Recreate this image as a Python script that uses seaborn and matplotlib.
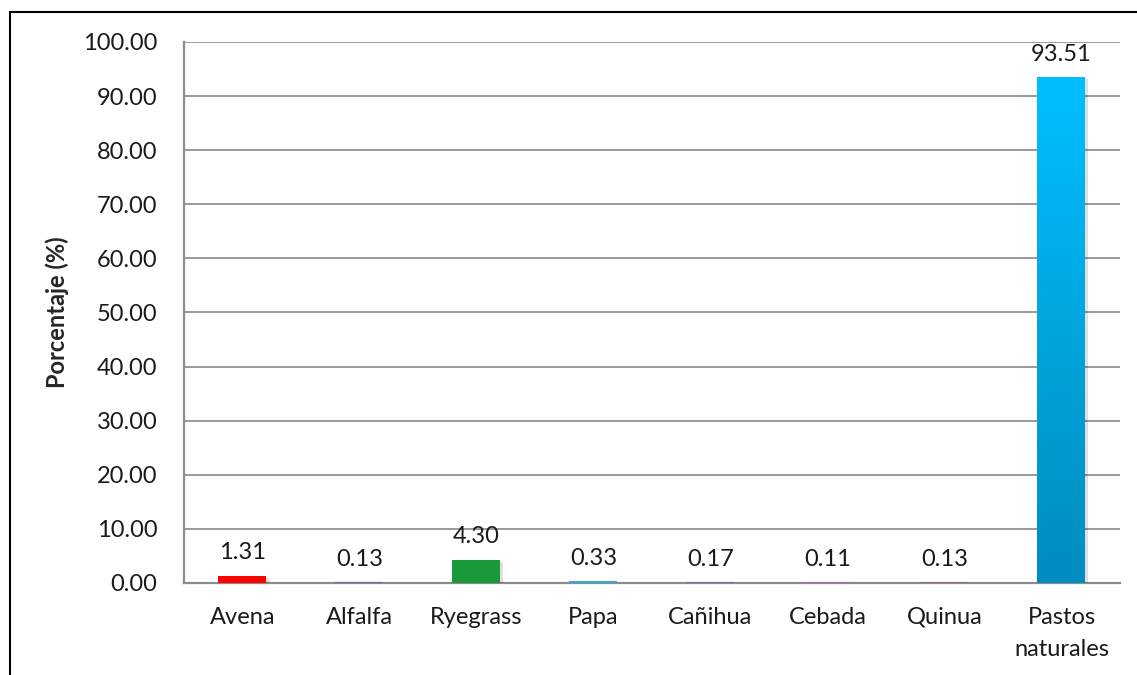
import numpy as np
import pandas as pd
import seaborn as sns
import matplotlib.pyplot as plt
import matplotlib.patheffects as pe
from matplotlib.patches import Rectangle

# Porcentaje de superficie por cultivo

cultivos = ['Avena', 'Alfalfa', 'Ryegrass', 'Papa', 'Cañihua', 'Cebada', 'Quinua', 'Pastos\nnaturales']
porcentaje = [1.31, 0.13, 4.30, 0.33, 0.17, 0.11, 0.13, 93.51]
colores = ['#FF0000', '#6F62A0', '#1A9A3A', '#35A9D8', '#6A7590', '#9A72A6', '#8C7272', '#00A6DC']

df = pd.DataFrame({'cultivo': cultivos, 'porcentaje': porcentaje})

sns.set_style('white')
plt.rcParams['font.family'] = ['Lato', 'DejaVu Sans']

fig = plt.figure(figsize=(11.37, 6.75), dpi=100)
ax = fig.add_axes([0.1618, 0.1363, 0.8232, 0.8015])

sns.barplot(data=df, x='cultivo', y='porcentaje', hue='cultivo', palette=colores,
            saturation=1, width=0.41, linewidth=0, legend=False, ax=ax, zorder=3)

# sombra suave en las barras
for p in ax.patches:
    p.set_path_effects([pe.SimplePatchShadow(offset=(1.5, -1.5), shadow_rgbFace='#000000', alpha=0.12),
                        pe.Normal()])

# degradado en la barra de pastos naturales
barra = ax.patches[-1]
x0, y0 = barra.get_x(), barra.get_y()
w, h = barra.get_width(), barra.get_height()
grad = np.linspace(0, 1, 256).reshape(-1, 1)
cmap = sns.blend_palette(['#008CBE', '#00BFFF'], as_cmap=True)
img = ax.imshow(grad, extent=[x0, x0 + w, y0, y0 + h], origin='lower', cmap=cmap,
                aspect='auto', zorder=4)
img.set_clip_path(barra)

for i, v in enumerate(porcentaje):
    ax.annotate(f'{v:.2f}', (i, v), xytext=(0, 9), textcoords='offset points',
                ha='center', va='bottom', fontsize=17, color='#1a1a1a')

ax.set_xlim(-0.5, len(cultivos) - 0.5)
ax.set_ylim(0, 100)
ax.set_yticks(np.arange(0, 101, 10))
ax.set_yticklabels([f'{t:.2f}' for t in np.arange(0, 101, 10)])
ax.grid(axis='y', color='#999999', linewidth=1.4, zorder=0)
ax.tick_params(axis='both', length=0, labelsize=17, colors='#1a1a1a')
ax.tick_params(axis='x', pad=17)
ax.tick_params(axis='y', pad=19)
for t in ax.get_xticklabels():
    t.set_linespacing(1.65)
for lado in ['top', 'right']:
    ax.spines[lado].set_visible(False)
for lado in ['left', 'bottom']:
    ax.spines[lado].set_color('#8c8c8c')
    ax.spines[lado].set_linewidth(1.6)
ax.set_xlabel('')
ax.set_ylabel('Porcentaje (%)', fontsize=17, fontweight='bold', labelpad=10)

fig.patches.append(Rectangle((10 / 1137, -0.1), 1.2, 1 - 12 / 675 + 0.1, transform=fig.transFigure,
                             fill=False, edgecolor='black', linewidth=1.5))

fig.savefig('out.png', dpi=100)
